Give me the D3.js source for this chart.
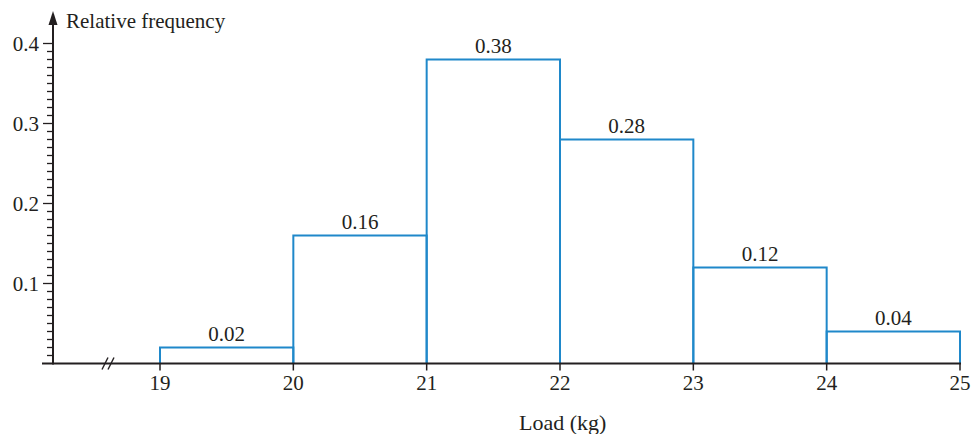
<!DOCTYPE html>
<html><head><meta charset="utf-8">
<script src="https://cdn.jsdelivr.net/npm/d3@7"></script>
<style>body{margin:0;background:#fff}svg{display:block}text{font-family:"Liberation Serif","DejaVu Serif",serif;fill:#231f20}</style>
</head><body>
<script>
const binStarts = [19, 20, 21, 22, 23, 24];
const binEnds = [20, 21, 22, 23, 24, 25];
const relFreq = [0.02, 0.16, 0.38, 0.28, 0.12, 0.04];
const barLabels = ["0.02", "0.16", "0.38", "0.28", "0.12", "0.04"];
const xTicks = [19, 20, 21, 22, 23, 24, 25];
const yTicks = [0.1, 0.2, 0.3, 0.4];
const yLabel = "Relative frequency";
const xLabel = "Load (kg)";

const W = 973, H = 434;
const svg = d3.select("body").append("svg").attr("width", W).attr("height", H);
const x = d3.scaleLinear().domain([19, 25]).range([160, 960]);
const y = d3.scaleLinear().domain([0, 0.4]).range([363.5, 43.5]);
const axisX = 53, base = y(0);
const ink = "#231f20", blue = "#1f88ca";
const fs = 21;

// bars (histogram outline)
const data = binStarts.map((s, i) => ({s, e: binEnds[i], v: relFreq[i], l: barLabels[i]}));
svg.append("g").selectAll("path").data(data).join("path")
  .attr("d", d => `M${x(d.s)},${base}V${y(d.v)}H${x(d.e)}V${base}`)
  .attr("fill", "none").attr("stroke", blue).attr("stroke-width", 2);
svg.append("g").selectAll("text").data(data).join("text")
  .attr("x", d => (x(d.s) + x(d.e)) / 2).attr("y", d => y(d.v) - 7)
  .attr("text-anchor", "middle").attr("font-size", fs).text(d => d.l);

// x axis line
svg.append("line").attr("x1", 42).attr("x2", 961).attr("y1", base).attr("y2", base)
  .attr("stroke", ink).attr("stroke-width", 2);
// break mark
[0, 6].forEach(o => svg.append("line")
  .attr("x1", 102 + o).attr("y1", base + 6).attr("x2", 108 + o).attr("y2", base - 6)
  .attr("stroke", ink).attr("stroke-width", 1.4));
// x ticks
const xg = svg.append("g");
xg.selectAll("line").data(xTicks).join("line")
  .attr("x1", d => x(d)).attr("x2", d => x(d)).attr("y1", base).attr("y2", base + 7)
  .attr("stroke", ink).attr("stroke-width", 1.5);
xg.selectAll("text").data(xTicks).join("text")
  .attr("x", d => x(d)).attr("y", 390).attr("text-anchor", "middle").attr("font-size", fs)
  .text(d => d);
svg.append("text").attr("x", x(22.02)).attr("y", 430).attr("text-anchor", "middle")
  .attr("font-size", 22).text(xLabel);

// y axis
svg.append("line").attr("x1", axisX).attr("x2", axisX).attr("y1", base + 1).attr("y2", 22)
  .attr("stroke", ink).attr("stroke-width", 2);
svg.append("path").attr("d", `M${axisX},11L${axisX - 4.5},25L${axisX + 4.5},25Z`).attr("fill", ink);
const minor = d3.range(1, 41).map(i => i / 100);
svg.append("g").selectAll("line").data(minor).join("line")
  .attr("x1", d => (Math.round(d * 100) % 10 === 0) ? axisX - 10 : axisX - 6)
  .attr("x2", axisX).attr("y1", d => y(d)).attr("y2", d => y(d))
  .attr("stroke", ink).attr("stroke-width", 1.3);
svg.append("g").selectAll("text").data(yTicks).join("text")
  .attr("x", 39).attr("y", d => y(d) + 7).attr("text-anchor", "end").attr("font-size", fs)
  .text(d => d.toFixed(1));
svg.append("text").attr("x", 66).attr("y", 28).attr("font-size", fs).text(yLabel);
</script>
</body></html>
